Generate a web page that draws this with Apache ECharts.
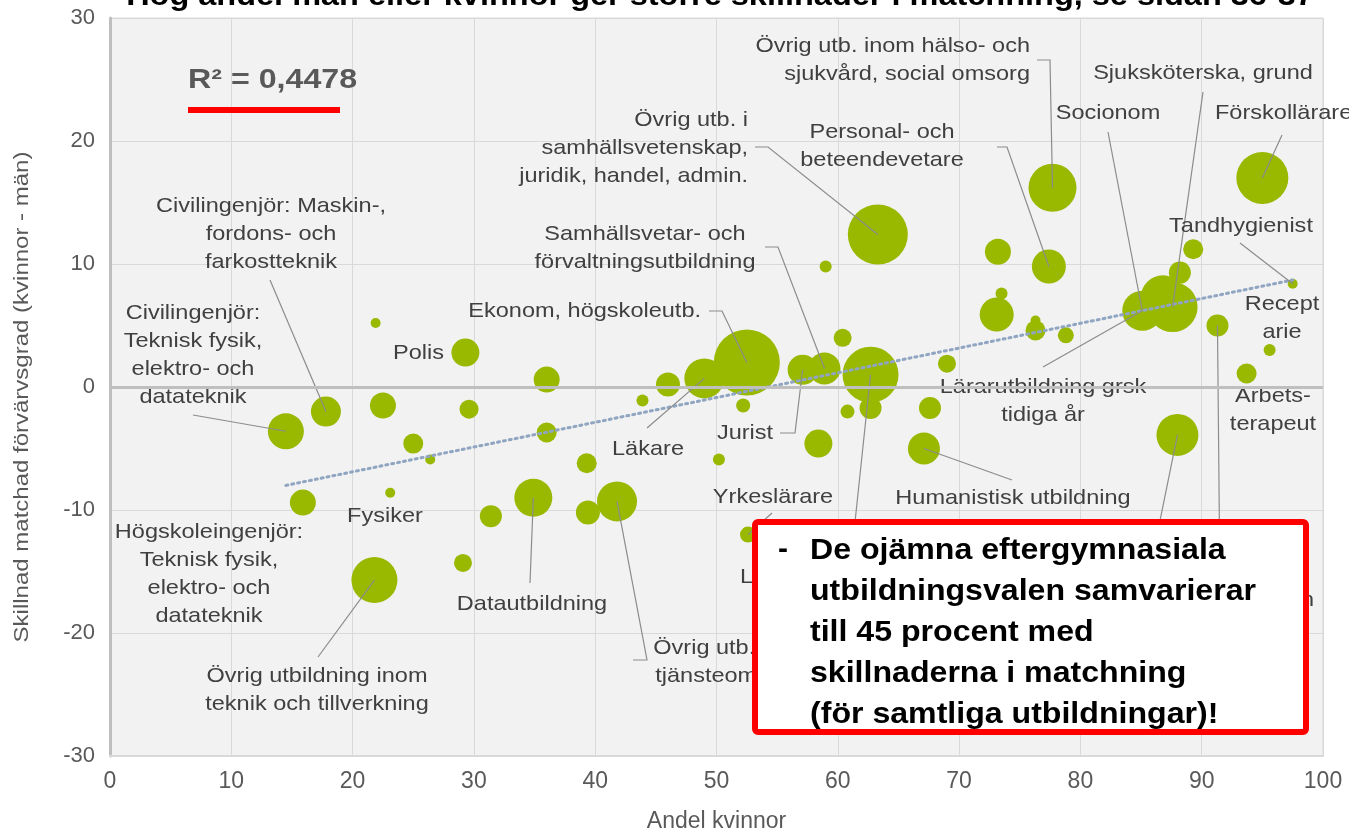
<!DOCTYPE html>
<html>
<head>
<meta charset="utf-8">
<script src="https://cdn.jsdelivr.net/npm/echarts@6/dist/echarts.min.js"></script>
<style>
  html, body { margin: 0; padding: 0; background: #fff; }
  #chart { width: 1349px; height: 835px; }
</style>
</head>
<body>
<div id="chart"></div>
<script>
// andel kvinnor (x), skillnad i matchad förvärvsgrad (y), bubbelstorlek
var andelKvinnor = [14.5, 17.8, 22.5, 21.9, 29.3, 29.6, 25.0, 26.4, 15.9, 23.1,
  21.8, 29.1, 31.4, 36.0, 36.0, 39.3, 34.9, 39.4, 41.8, 43.9,
  46.0, 49.0, 52.5, 52.2, 50.2, 52.6, 57.1, 58.9, 60.4, 59.0,
  63.3, 62.7, 60.8, 62.7, 58.4, 67.1, 67.6, 69.0, 73.2, 73.1,
  73.5, 76.3, 76.3, 78.8, 77.4, 77.7, 85.1, 86.8, 87.6, 88.2,
  89.3, 95.0, 97.5, 91.3, 95.6, 93.7, 88.0];
var skillnad = [-3.6, -2.0, -1.5, 5.2, 2.8, -1.8, -4.6, -5.9, -9.4, -8.6,
  -15.7, -14.3, -10.5, 0.6, -3.7, -6.2, -9.0, -10.2, -9.3, -1.1,
  0.2, 0.7, 2.0, -1.5, -5.9, -12.0, 1.4, 1.5, 4.0, 9.8,
  12.4, 1.0, -2.0, -1.7, -4.6, -5.0, -1.7, 1.9, 11.0, 5.9,
  7.6, 4.6, 5.4, 4.2, 9.8, 16.2, 6.2, 7.3, 6.5, 9.3,
  11.2, 17.0, 8.4, 5.0, 3.0, 1.1, -3.9];
var storlek = [36, 30, 26, 10, 28, 19, 20, 10, 26, 10,
  46, 18, 22, 26, 20, 20, 38, 24, 40, 12,
  24, 40, 66, 14, 12, 16, 30, 32, 18, 12,
  60, 56, 14, 22, 28, 32, 22, 18, 26, 34,
  12, 20, 10, 16, 34, 48, 40, 44, 50, 22,
  20, 52, 10, 22, 12, 20, 42];

// trendlinje (linjär), ändpunkter avlästa
var trendX = [14.5, 97.5];
var trendY = [-8.0, 8.7];

var xTicks = [0, 100, 10];
var yTicks = [-30, 30, 10];

// etiketter: b = bubbla, placering i pixlar
var etiketter = [
  { b: 1, text: 'Civilingenjör: Maskin-,\nfordons- och\nfarkostteknik', x: 271, y: 234, align: 'center', line: [[270, 280]] },
  { b: 0, text: 'Civilingenjör:\nTeknisk fysik,\nelektro- och\ndatateknik', x: 193, y: 355, align: 'center', line: [[193, 415]] },
  { b: 4, text: 'Polis', x: 444, y: 353, align: 'right' },
  { b: 22, text: 'Ekonom, högskoleutb.', x: 701, y: 311, align: 'right', line: [[709, 311], [722, 311]] },
  { b: 30, text: 'Övrig utb. i\nsamhällsvetenskap,\njuridik, handel, admin.', x: 748, y: 148, align: 'right', line: [[755, 147], [768, 147]] },
  { b: 27, text: 'Samhällsvetar- och\nförvaltningsutbildning', x: 645, y: 248, align: 'center', line: [[765, 247], [778, 247]] },
  { b: 21, text: 'Läkare', x: 648, y: 449, align: 'center', line: [[647, 428]] },
  { b: 26, text: 'Jurist', x: 745, y: 433, align: 'center', line: [[780, 433], [795, 433]] },
  { b: 25, text: 'Yrkeslärare', x: 773, y: 497, align: 'center', line: [[772, 513]] },
  { b: 16, text: 'Datautbildning', x: 532, y: 604, align: 'center', line: [[530, 583]] },
  { b: 18, text: 'Övrig utb. inom\ntjänsteområdet', x: 733, y: 662, align: 'center', line: [[633, 660], [647, 660]] },
  { b: 9, text: 'Fysiker', x: 385, y: 516, align: 'center' },
  { b: 8, text: 'Högskoleingenjör:\nTeknisk fysik,\nelektro- och\ndatateknik', x: 209, y: 574, align: 'center' },
  { b: 10, text: 'Övrig utbildning inom\nteknik och tillverkning', x: 317, y: 690, align: 'center', line: [[318, 657]] },
  { b: 44, text: 'Personal- och\nbeteendevetare', x: 882, y: 146, align: 'center', line: [[997, 147], [1007, 147]] },
  { b: 45, text: 'Övrig utb. inom hälso- och\nsjukvård, social omsorg', x: 1030, y: 60, align: 'right', line: [[1037, 60], [1050, 60]] },
  { b: 48, text: 'Sjuksköterska, grund', x: 1203, y: 73, align: 'center', line: [[1203, 92]] },
  { b: 46, text: 'Socionom', x: 1108, y: 113, align: 'center', line: [[1108, 132]] },
  { b: 51, text: 'Förskollärare', x: 1215, y: 113, align: 'left', line: [[1282, 135]] },
  { b: 52, text: 'Tandhygienist', x: 1241, y: 226, align: 'center', line: [[1240, 243]] },
  { b: 54, text: 'Recept\narie', x: 1282, y: 318, align: 'center' },
  { b: 55, text: 'Arbets-\nterapeut', x: 1273, y: 410, align: 'center' },
  { b: 46, text: 'Lärarutbildning grsk\ntidiga år', x: 1043, y: 401, align: 'center', line: [[1043, 367]] },
  { b: 35, text: 'Humanistisk utbildning', x: 1013, y: 498, align: 'center', line: [[1012, 480]] },
  { b: 25, text: 'Lärarutbildning gymnasiet', x: 740, y: 577, align: 'left' },
  { b: 53, text: 'Biomedicinsk analytiker, röntgen', x: 1314, y: 600, align: 'right', line: [[1220, 588]] },
  { b: 56, text: 'Apotekare', x: 1150, y: 578, align: 'center', line: [[1152, 560]] },
  { b: 31, text: 'Gymnasielärare', x: 850, y: 578, align: 'center', line: [[851, 560]] }
];

var bubblor = andelKvinnor.map(function (x, i) { return [x, skillnad[i], storlek[i]]; });
var etikettData = etiketter.map(function (e) { return [andelKvinnor[e.b], skillnad[e.b]]; });

var myChart = echarts.init(document.getElementById('chart'));
var fam = '"Liberation Sans", Arial, sans-serif';
var bred = 1.12; // texten i originalet är lite utdragen på bredden

option = {
  animation: false,
  grid: {
    left: 110, right: 26, top: 18, bottom: 79, outerBoundsMode: 'none',
    show: true, backgroundColor: '#f2f2f2', borderColor: '#d9d9d9', borderWidth: 1
  },
  xAxis: {
    type: 'value', min: xTicks[0], max: xTicks[1], interval: xTicks[2],
    name: 'Andel kvinnor', nameLocation: 'middle', nameGap: 54,
    nameTextStyle: { color: '#595959', fontSize: 23, fontFamily: fam },
    axisLine: { show: true, onZero: false, lineStyle: { color: '#d9d9d9', width: 2 } },
    axisTick: { show: false },
    axisLabel: { color: '#595959', fontSize: 23, fontFamily: fam, margin: 14 },
    splitLine: { lineStyle: { color: '#d9d9d9', width: 1 } }
  },
  yAxis: {
    type: 'value', min: yTicks[0], max: yTicks[1], interval: yTicks[2],
    axisLine: { show: true, lineStyle: { color: '#bfbfbf', width: 3 } },
    axisTick: { show: false },
    axisLabel: { color: '#595959', fontSize: 22, fontFamily: fam, margin: 15 },
    splitLine: { lineStyle: { color: '#d9d9d9', width: 1 } }
  },
  series: [
    {
      type: 'line', data: [], z: 1, silent: true,
      markLine: {
        silent: true, symbol: 'none', label: { show: false },
        lineStyle: { color: '#bfbfbf', width: 3, type: 'solid' },
        data: [{ yAxis: 0 }]
      }
    },
    {
      type: 'scatter', z: 2,
      data: bubblor,
      symbolSize: function (d) { return d[2]; },
      itemStyle: { color: '#99b800', opacity: 1 }
    },
    {
      type: 'line', z: 3, silent: true,
      data: trendX.map(function (x, i) { return [x, trendY[i]]; }),
      showSymbol: false,
      lineStyle: { color: '#8fa5c2', width: 3, type: [2, 4], cap: 'round' }
    },
    {
      type: 'custom', z: 4, clip: false, silent: true,
      data: etikettData,
      renderItem: function (params, api) {
        var e = etiketter[params.dataIndex];
        var p = api.coord([api.value(0), api.value(1)]);
        var children = [];
        if (e.line) {
          children.push({
            type: 'polyline',
            shape: { points: e.line.concat([p]) },
            style: { stroke: '#8c8c8c', lineWidth: 1.2, fill: null }
          });
        }
        children.push({
          type: 'text', x: e.x, y: e.y, scaleX: bred,
          style: {
            text: e.text, x: 0, y: 0, fill: '#404040',
            font: '21px ' + fam, align: e.align, verticalAlign: 'middle', lineHeight: 28
          }
        });
        return { type: 'group', children: children };
      }
    }
  ],
  graphic: [
    {
      type: 'text', z: 100, x: 22, y: 397, rotation: Math.PI / 2, scaleX: 1.2,
      style: { text: 'Skillnad matchad förvärvsgrad (kvinnor - män)', fill: '#595959',
        font: '20px ' + fam, align: 'center', verticalAlign: 'middle' }
    },
    {
      type: 'text', z: 100, x: 720, y: -18, scaleX: 1.12,
      style: { text: 'Hög andel män eller kvinnor ger större skillnader i matchning, se sidan 36-37',
        fill: '#000', font: 'bold 29px ' + fam, align: 'center', verticalAlign: 'top' }
    },
    {
      type: 'text', z: 100, x: 188, y: 80, scaleX: 1.15,
      style: { text: 'R² = 0,4478', fill: '#595959', font: 'bold 28px ' + fam, verticalAlign: 'middle' }
    },
    { type: 'rect', z: 100, shape: { x: 188, y: 107, width: 152, height: 6 }, style: { fill: '#ff0000' } },
    {
      type: 'rect', z: 100, shape: { x: 755, y: 522, width: 551, height: 210, r: 3 },
      style: { fill: '#ffffff', stroke: '#ff0000', lineWidth: 6 }
    },
    {
      type: 'text', z: 101, x: 778, y: 550,
      style: { text: '-', fill: '#000', font: 'bold 30px ' + fam, verticalAlign: 'middle' }
    },
    {
      type: 'text', z: 101, x: 810, y: 530, scaleX: 1.07,
      style: {
        text: 'De ojämna eftergymnasiala\nutbildningsvalen samvarierar\ntill 45 procent med\nskillnaderna i matchning\n(för samtliga utbildningar)!',
        fill: '#000', font: 'bold 30px ' + fam, lineHeight: 41, verticalAlign: 'top'
      }
    }
  ]
};

myChart.setOption(option);
</script>
</body>
</html>
